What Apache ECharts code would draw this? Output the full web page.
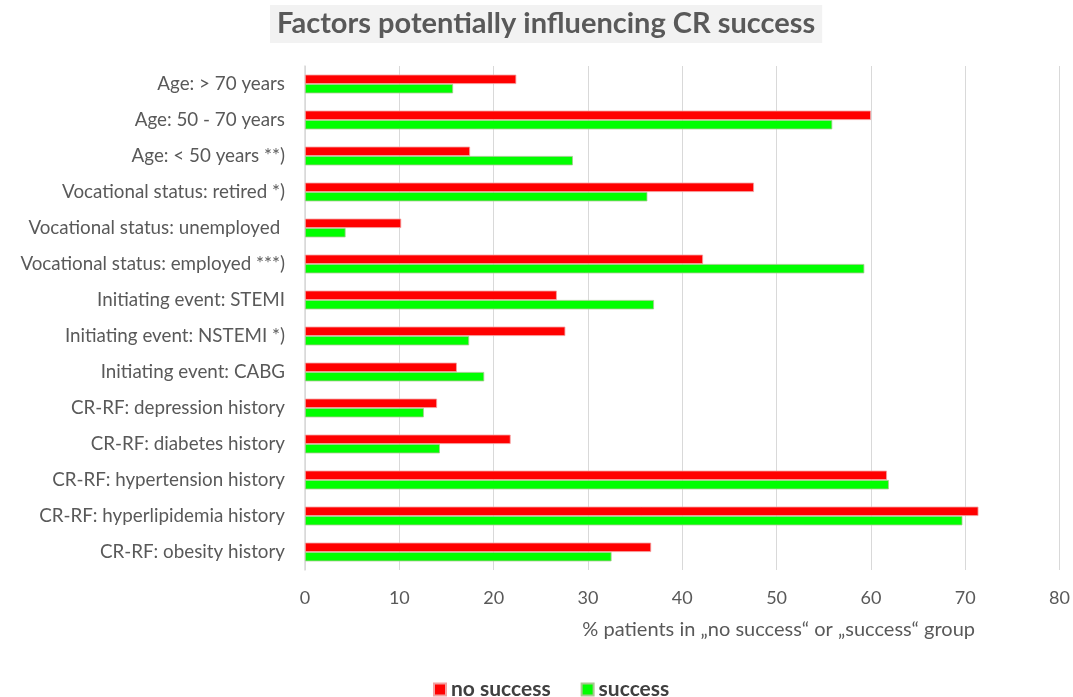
<!DOCTYPE html>
<html>
<head>
<meta charset="utf-8">
<script src="https://cdn.jsdelivr.net/npm/echarts@6/dist/echarts.min.js"></script>
<style>html,body{margin:0;padding:0;background:#fff}#c{width:1073px;height:697px}</style>
</head>
<body>
<div id="c"></div>
<script>
var categories = [
  "Age: > 70 years",
  "Age: 50 - 70 years",
  "Age: < 50 years **)",
  "Vocational status: retired *)",
  "Vocational status: unemployed ",
  "Vocational status: employed ***)",
  "Initiating event: STEMI",
  "Initiating event: NSTEMI *)",
  "Initiating event: CABG",
  "CR-RF: depression history",
  "CR-RF: diabetes history",
  "CR-RF: hypertension history",
  "CR-RF: hyperlipidemia history",
  "CR-RF: obesity history"
];
var noSuccess = [22.4, 60.0, 17.5, 47.6, 10.2, 42.2, 26.7, 27.6, 16.1, 14.0, 21.8, 61.7, 71.4, 36.7];
var success   = [15.7, 55.9, 28.4, 36.3, 4.3, 59.3, 37.0, 17.4, 19.0, 12.6, 14.3, 61.9, 69.7, 32.5];
var xTicks = [0, 10, 20, 30, 40, 50, 60, 70, 80];
var titleText = "Factors potentially influencing CR success";
var axisTitle = "% patients in \u201Eno success\u201C or \u201Esuccess\u201C group";

var FONT = "Lato, 'Open Sans', sans-serif";
var chart = echarts.init(document.getElementById('c'));
chart.setOption({
  backgroundColor: '#fff',
  animation: false,
  textStyle: {fontFamily: FONT},
  title: {
    text: titleText,
    left: 270,
    top: 5,
    padding: [4, 7, 5, 7],
    backgroundColor: '#f2f2f2',
    textStyle: {fontFamily: FONT, fontSize: 29, fontWeight: 'bold', color: '#595959'}
  },
  grid: {left: 305, right: 12, top: 66, height: 504, containLabel: false},
  legend: {
    top: 674,
    left: 428,
    itemWidth: 12,
    itemHeight: 12,
    itemGap: 30,
    icon: 'rect',
    textStyle: {fontFamily: FONT, fontSize: 21, fontWeight: 'bold', color: '#404040'},
    data: ['no success', 'success']
  },
  xAxis: {
    type: 'value',
    min: xTicks[0],
    max: xTicks[xTicks.length - 1],
    interval: 10,
    axisLine: {show: false},
    axisTick: {show: false},
    splitLine: {show: true, lineStyle: {color: '#d9d9d9', width: 1}},
    axisLabel: {fontFamily: FONT, fontSize: 18, color: '#595959', margin: 19}
  },
  yAxis: {
    type: 'category',
    inverse: true,
    data: categories,
    axisLine: {show: true, lineStyle: {color: '#d9d9d9', width: 1.5}},
    axisTick: {show: false},
    axisLabel: {fontFamily: FONT, fontSize: 18.8, color: '#595959', margin: 20, padding: [5, 0, 0, 0]}
  },
  graphic: [{
    type: 'text',
    right: 1073 - 975,
    top: 620,
    style: {text: axisTitle, font: '20px ' + FONT, fill: '#595959'}
  }],
  series: [{
    name: 'no success',
    type: 'bar',
    data: noSuccess,
    barGap: '0%',
    barCategoryGap: '48%',
    itemStyle: {color: '#ff0000', borderColor: '#f4a0a0', borderWidth: 0.8}
  }, {
    name: 'success',
    type: 'bar',
    data: success,
    barGap: '0%',
    barCategoryGap: '48%',
    itemStyle: {color: '#00ff00', borderColor: '#a8c890', borderWidth: 0.8}
  }]
});
</script>
</body>
</html>
